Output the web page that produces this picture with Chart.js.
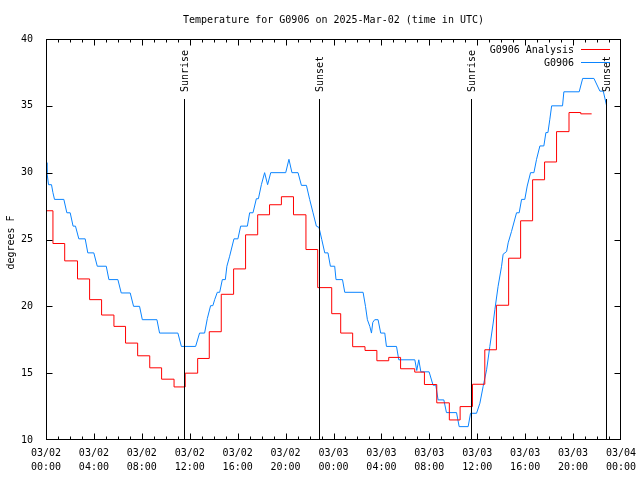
<!DOCTYPE html>
<html>
<head>
<meta charset="utf-8">
<script src="https://cdn.jsdelivr.net/npm/chart.js@4"></script>
<style>
  html, body { margin: 0; padding: 0; background: #fff; }
  #wrap { width: 640px; height: 480px; }
</style>
</head>
<body>
<div id="wrap"><canvas id="chart" width="640" height="480"></canvas></div>
<script>
const TITLE = "Temperature for G0906 on 2025-Mar-02 (time in UTC)";
const Y_TITLE = "degrees F";

// hours since 03/02 00:00 UTC
const redHours = [0, 0.58, 1.56, 2.63, 3.64, 4.64, 5.67, 6.64, 7.65, 8.66, 9.65, 10.69, 11.62, 12.66, 13.63, 14.63, 15.66, 16.66, 17.67, 18.66, 19.65, 20.66, 21.7, 22.68, 23.85, 24.6, 25.6, 26.63, 27.62, 28.61, 29.6, 30.78, 31.59, 32.62, 33.67, 34.57, 35.6, 36.63, 37.6, 38.62, 39.62, 40.62, 41.62, 42.62, 43.66, 44.64, 45.55];
const redTemps = [27.15, 24.7, 23.4, 22.05, 20.5, 19.35, 18.5, 17.25, 16.3, 15.4, 14.55, 13.97, 15.0, 16.1, 18.1, 20.9, 22.8, 25.35, 26.85, 27.6, 28.2, 26.85, 24.25, 21.4, 19.45, 18.0, 16.98, 16.7, 15.93, 16.18, 15.33, 15.08, 14.15, 12.78, 11.5, 12.5, 14.17, 16.75, 20.08, 23.6, 26.4, 29.47, 30.8, 33.07, 34.5, 34.4, 34.4];

const blueHours = [0, 0.08, 0.21, 0.46, 0.58, 0.71, 1.49, 1.74, 2.02, 2.26, 2.46, 2.74, 3.27, 3.49, 3.99, 4.28, 5.03, 5.25, 6.00, 6.28, 7.03, 7.31, 7.81, 8.04, 9.26, 9.48, 11.01, 11.30, 12.49, 12.82, 13.24, 13.47, 13.74, 13.93, 14.08, 14.30, 14.50, 14.72, 14.97, 15.10, 15.33, 15.69, 16.02, 16.25, 16.81, 17.00, 17.28, 17.56, 17.73, 17.98, 18.25, 18.50, 18.76, 20.01, 20.28, 20.53, 21.04, 21.32, 21.74, 22.01, 22.29, 22.57, 22.79, 23.02, 23.27, 23.54, 23.74, 24.10, 24.21, 24.75, 24.94, 26.47, 26.67, 26.83, 27.03, 27.17, 27.28, 27.44, 27.72, 27.94, 28.28, 28.42, 29.26, 29.45, 30.79, 30.95, 31.12, 31.29, 31.98, 32.31, 32.54, 32.73, 33.21, 33.43, 34.27, 34.49, 35.24, 35.44, 35.94, 36.22, 36.49, 36.78, 37.05, 37.33, 37.47, 37.74, 38.03, 38.16, 38.45, 38.58, 38.86, 39.28, 39.50, 39.70, 39.97, 40.17, 40.45, 40.73, 40.95, 41.23, 41.56, 41.73, 41.90, 42.06, 42.21, 43.12, 43.23, 44.51, 44.80, 45.74, 46.24, 46.52, 46.80];
const blueTemps = [30.75, 30.0, 29.1, 29.1, 28.5, 28.0, 28.0, 27.0, 27.0, 26.0, 26.0, 25.05, 25.05, 24.0, 24.0, 23.0, 23.0, 22.0, 22.0, 21.0, 21.0, 20.0, 20.0, 19.0, 19.0, 18.0, 18.0, 17.0, 17.0, 18.0, 18.0, 19.1, 20.05, 20.05, 20.5, 21.05, 21.05, 22.0, 22.0, 23.0, 23.75, 25.05, 25.05, 26.0, 26.0, 27.0, 27.0, 28.05, 28.05, 29.1, 30.0, 29.1, 30.0, 30.0, 31.0, 30.0, 30.0, 29.05, 29.05, 28.0, 27.0, 26.0, 25.9, 25.0, 24.0, 24.0, 23.0, 23.0, 22.0, 22.0, 21.05, 21.05, 20.0, 19.0, 18.5, 18.0, 18.8, 19.0, 19.0, 18.0, 18.0, 17.0, 17.0, 16.0, 16.0, 15.2, 16.0, 15.1, 15.1, 14.1, 14.1, 13.0, 13.0, 12.05, 12.05, 11.0, 11.0, 12.0, 12.0, 12.75, 14.0, 15.25, 17.0, 18.75, 19.75, 21.5, 23.0, 23.9, 24.1, 24.75, 25.6, 27.0, 27.0, 28.0, 28.0, 29.0, 30.0, 30.0, 31.0, 32.0, 32.0, 33.0, 33.0, 34.0, 35.0, 35.0, 36.05, 36.05, 37.05, 37.05, 36.1, 36.1, 35.0];

const sunHours = [11.49, 22.77, 35.49, 46.77];
const sunLabels = ["Sunrise", "Sunset", "Sunrise", "Sunset"];

const xTickDates = ["03/02", "03/02", "03/02", "03/02", "03/02", "03/02", "03/03", "03/03", "03/03", "03/03", "03/03", "03/03", "03/04"];
const xTickTimes = ["00:00", "04:00", "08:00", "12:00", "16:00", "20:00", "00:00", "04:00", "08:00", "12:00", "16:00", "20:00", "00:00"];
const yTickLabels = ["10", "15", "20", "25", "30", "35", "40"];

const FONT = "'DejaVu Sans Mono', 'Liberation Mono', monospace";

const toPoints = (xs, ys) => xs.map((x, i) => ({x: x, y: ys[i]}));

const gnuplotFrame = {
    id: 'gnuplotFrame',
    afterDatasetsDraw(chart) {
        const ctx = chart.ctx, a = chart.chartArea;
        const xs = chart.scales.x, ys = chart.scales.y;
        const L = a.left + 0.5, R = a.right - 0.5, T = a.top + 0.5, B = a.bottom - 0.5;
        const snap = v => Math.min(R, Math.max(L, Math.round(v) + 0.5));
        ctx.save();
        ctx.strokeStyle = '#000';
        ctx.lineWidth = 1;

        // sunrise / sunset markers
        const lineTop = a.top + 60;
        ctx.font = '10px ' + FONT;
        ctx.fillStyle = '#000';
        sunHours.forEach((h, i) => {
            const px = snap(xs.getPixelForValue(h));
            ctx.beginPath(); ctx.moveTo(px, lineTop); ctx.lineTo(px, B); ctx.stroke();
            ctx.save();
            ctx.translate(px + 1, lineTop - 7);
            ctx.rotate(-Math.PI / 2);
            ctx.textAlign = 'left'; ctx.textBaseline = 'middle';
            ctx.fillText(sunLabels[i], 0, 0);
            ctx.restore();
        });

        // border
        ctx.strokeRect(L, T, R - L, B - T);

        // inward ticks
        ctx.beginPath();
        for (let h = 0; h <= 48; h++) {
            const px = snap(xs.getPixelForValue(h));
            const len = h % 4 === 0 ? 6 : 3;
            ctx.moveTo(px, B); ctx.lineTo(px, B - len);
            ctx.moveTo(px, T); ctx.lineTo(px, T + len);
        }
        for (let v = 10; v <= 40; v += 5) {
            const py = Math.min(B, Math.max(T, Math.round(ys.getPixelForValue(v)) + 0.5));
            ctx.moveTo(L, py); ctx.lineTo(L + 6, py);
            ctx.moveTo(R, py); ctx.lineTo(R - 6, py);
        }
        ctx.stroke();

        // legend
        ctx.textAlign = 'right'; ctx.textBaseline = 'middle';
        chart.data.datasets.forEach((ds, i) => {
            const y = a.top + 10.5 + i * 13;
            ctx.fillStyle = '#000';
            ctx.fillText(ds.label, a.right - 47, y + 1);
            ctx.strokeStyle = ds.borderColor;
            ctx.beginPath(); ctx.moveTo(a.right - 40, y); ctx.lineTo(a.right - 11, y); ctx.stroke();
        });

        // title
        ctx.fillStyle = '#000';
        ctx.textAlign = 'center'; ctx.textBaseline = 'middle';
        ctx.fillText(TITLE, (a.left + a.right) / 2, 20);

        // y title
        ctx.save();
        ctx.translate(11, (a.top + a.bottom) / 2 + 3);
        ctx.rotate(-Math.PI / 2);
        ctx.fillText(Y_TITLE, 0, 0);
        ctx.restore();
        ctx.restore();
    }
};

new Chart(document.getElementById('chart').getContext('2d'), {
    type: 'line',
    data: {
        datasets: [
            { label: 'G0906 Analysis', data: toPoints(redHours, redTemps), borderColor: '#ff0000', borderWidth: 1, pointRadius: 0, stepped: true, fill: false },
            { label: 'G0906', data: toPoints(blueHours, blueTemps), borderColor: '#0a84ff', borderWidth: 1, pointRadius: 0, tension: 0, fill: false }
        ]
    },
    options: {
        responsive: false,
        animation: false,
        layout: { padding: { left: 0, top: 39, right: 19, bottom: 0 } },
        plugins: { legend: { display: false }, title: { display: false }, tooltip: { enabled: false } },
        scales: {
            x: {
                type: 'linear', min: 0, max: 48,
                grid: { display: false }, border: { display: false },
                afterFit: s => { s.height = 40; s.paddingLeft = 0; s.paddingRight = 0; },
                ticks: {
                    stepSize: 4, autoSkip: false, maxRotation: 0, padding: -2,
                    color: '#000', font: { family: FONT, size: 10, lineHeight: 1.4 },
                    callback: (v, i) => [xTickDates[i], xTickTimes[i]]
                }
            },
            y: {
                min: 10, max: 40,
                grid: { display: false }, border: { display: false },
                afterFit: s => { s.width = 46; s.paddingTop = 0; s.paddingBottom = 0; },
                ticks: {
                    stepSize: 5, padding: 5,
                    color: '#000', font: { family: FONT, size: 10 },
                    callback: (v, i) => yTickLabels[i]
                }
            }
        }
    },
    plugins: [gnuplotFrame]
});
</script>
</body>
</html>
